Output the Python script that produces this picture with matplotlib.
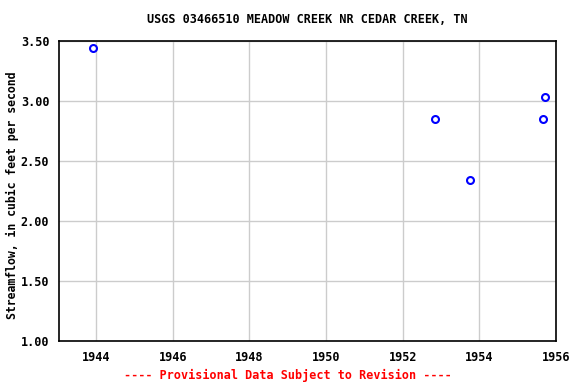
import matplotlib
matplotlib.use("Agg")
import matplotlib.pyplot as plt

# peak flow samples (decimal year, cfs)
years = [1943.92, 1952.84, 1953.76, 1955.66, 1955.70]
flows = [3.44, 2.85, 2.34, 2.85, 3.03]

xticks = [1944, 1946, 1948, 1950, 1952, 1954, 1956]
yticks = [1.00, 1.50, 2.00, 2.50, 3.00, 3.50]

plt.rcParams['font.family'] = 'DejaVu Sans Mono'
plt.rcParams['font.weight'] = 'bold'

fig = plt.figure(figsize=(5.76, 3.84), dpi=100)
ax = fig.add_axes([59 / 576, 1 - 341 / 384, (556 - 59) / 576, (341 - 41) / 384])

ax.plot(years, flows, linestyle='none', marker='o', markersize=5,
        markerfacecolor='none', markeredgecolor='blue', markeredgewidth=1.5, zorder=3)

ax.set_xlim(1943.03, 1956)
ax.set_ylim(1.0, 3.5)
ax.set_xticks(xticks)
ax.set_xticklabels([str(t) for t in xticks], fontsize=8.5, fontweight='bold')
ax.set_yticks(yticks)
ax.set_yticklabels([f"{t:.2f}" for t in yticks], fontsize=8.5, fontweight='bold')
ax.tick_params(length=0, pad=7)
ax.grid(True, color='#cccccc', linewidth=1)
ax.set_axisbelow(True)
for s in ax.spines.values():
    s.set_linewidth(1.2)

ax.set_title("USGS 03466510 MEADOW CREEK NR CEDAR CREEK, TN", fontsize=8.5,
             fontweight='bold', pad=13)
fig.text(12 / 576, 1 - 195 / 384, "Streamflow, in cubic feet per second", rotation=90,
         ha='center', va='center', fontsize=8.3, fontweight='bold')
fig.text(0.5, 1 - 375 / 384, "---- Provisional Data Subject to Revision ----",
         color='red', ha='center', va='center', fontsize=8.5, fontweight='bold')

fig.savefig("out.png", dpi=100)
